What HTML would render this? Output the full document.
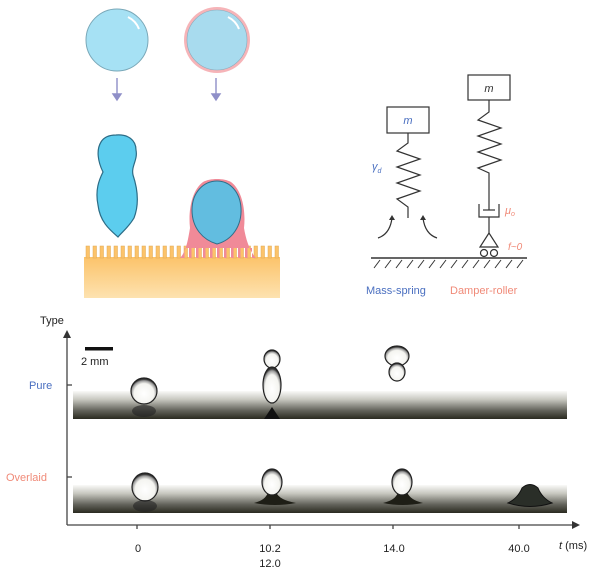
<!DOCTYPE html>
<html><head><meta charset="utf-8"><style>
html,body{margin:0;padding:0;background:#fff;}
svg{display:block;font-family:"Liberation Sans",sans-serif;}
</style></head><body>
<svg width="600" height="580" viewBox="0 0 600 580" xmlns="http://www.w3.org/2000/svg">
<defs>
<linearGradient id="strip" x1="0" y1="0" x2="0" y2="1">
<stop offset="0" stop-color="#fafaf8"/><stop offset="0.3" stop-color="#c8c8c0"/><stop offset="0.7" stop-color="#62625a"/><stop offset="1" stop-color="#2a2a20"/></linearGradient>
<radialGradient id="drop" cx="0.5" cy="0.6" r="0.55"><stop offset="0" stop-color="#fff"/><stop offset="0.7" stop-color="#f4f4f0"/><stop offset="0.9" stop-color="#999"/><stop offset="1" stop-color="#333"/></radialGradient>
<linearGradient id="sub" x1="0" y1="0" x2="0" y2="1"><stop offset="0" stop-color="#fcc36a"/><stop offset="1" stop-color="#fde2b0"/></linearGradient>
</defs>

<circle cx="117" cy="40" r="31" fill="#a6e1f4" stroke="#7aa8b8" stroke-width="1"/>
<path d="M128 17 q8 4 11 12" stroke="#fff" stroke-width="2" fill="none"/>
<circle cx="217" cy="40" r="33" fill="#f6b4b8"/>
<circle cx="217" cy="40" r="30" fill="#a8dbee" stroke="#8ab" stroke-width="0.6"/>
<path d="M228 17 q8 4 11 12" stroke="#fff" stroke-width="2" fill="none"/>
<g stroke="#8f8fc8" stroke-width="1.4" fill="#8f8fc8">
<line x1="117" y1="78" x2="117" y2="96"/><path d="M113 94 L117 100 L121 94Z"/>
<line x1="216" y1="78" x2="216" y2="96"/><path d="M212 94 L216 100 L220 94Z"/>
</g>
<path d="M116 135 C128 134 136 140 136 150 C138 160 131 166 133 175 C138 190 139 205 134 218 C128 228 122 232 118 237 C110 230 100 222 98 205 C95 190 99 180 103 172 C98 162 96 150 101 142 C104 137 110 135 116 135Z" fill="#5ccdee" stroke="#2c6c86" stroke-width="1.2"/>

<rect x="84" y="257" width="196" height="41" fill="url(#sub)"/>
<g fill="#fcc36a" stroke="#e0a850" stroke-width="0.5">
<rect x="86" y="246" width="3.5" height="12"/><rect x="93" y="246" width="3.5" height="12"/><rect x="100" y="246" width="3.5" height="12"/><rect x="107" y="246" width="3.5" height="12"/><rect x="114" y="246" width="3.5" height="12"/><rect x="121" y="246" width="3.5" height="12"/><rect x="128" y="246" width="3.5" height="12"/><rect x="135" y="246" width="3.5" height="12"/><rect x="142" y="246" width="3.5" height="12"/><rect x="149" y="246" width="3.5" height="12"/><rect x="156" y="246" width="3.5" height="12"/><rect x="163" y="246" width="3.5" height="12"/><rect x="170" y="246" width="3.5" height="12"/><rect x="177" y="246" width="3.5" height="12"/><rect x="184" y="246" width="3.5" height="12"/><rect x="191" y="246" width="3.5" height="12"/><rect x="198" y="246" width="3.5" height="12"/><rect x="205" y="246" width="3.5" height="12"/><rect x="212" y="246" width="3.5" height="12"/><rect x="219" y="246" width="3.5" height="12"/><rect x="226" y="246" width="3.5" height="12"/><rect x="233" y="246" width="3.5" height="12"/><rect x="240" y="246" width="3.5" height="12"/><rect x="247" y="246" width="3.5" height="12"/><rect x="254" y="246" width="3.5" height="12"/><rect x="261" y="246" width="3.5" height="12"/><rect x="268" y="246" width="3.5" height="12"/><rect x="275" y="246" width="3.5" height="12"/>
</g>
<path d="M180 258 C186 252 188 240 190 228 C188 210 192 190 203 182 C210 178 224 178 231 182 C242 190 246 210 244 228 C246 240 250 252 256 258 L252 258 L252 248 L247.5 248 L247.5 258 L245 258 L245 248 L240.5 248 L240.5 258 L238 258 L238 248 L233.5 248 L233.5 258 L231 258 L231 248 L226.5 248 L226.5 258 L224 258 L224 248 L219.5 248 L219.5 258 L217 258 L217 248 L212.5 248 L212.5 258 L210 258 L210 248 L205.5 248 L205.5 258 L203 258 L203 248 L198.5 248 L198.5 258 L196 258 L196 248 L191.5 248 L191.5 258 L189 258 L189 248 L184.5 248 L184.5 258Z" fill="#f08a98"/>
<path d="M217 181 C230 181 240 192 241 208 C242 226 232 240 217 244 C203 240 192 228 192 210 C192 192 204 181 217 181Z" fill="#62bde0" stroke="#2f6f8a" stroke-width="1"/>

<g stroke="#333" stroke-width="1.2" fill="none">
<rect x="387" y="107" width="42" height="26" fill="#fff"/>
<polyline points="408,133 408,143 397,151 420,159 397,167 420,175 397,183 420,191 397,199 408,207 408,218"/>
<rect x="468" y="75" width="42" height="25" fill="#fff"/>
<polyline points="489,100 489,112 478,120 501,128 478,136 501,144 478,152 501,160 478,168 489,173 489,210"/>
<polyline points="479,204 479,217 499,217 499,204"/>
<line x1="483" y1="210" x2="495" y2="210"/>
<line x1="489" y1="217" x2="489" y2="233"/>
<path d="M489 233 L480 247 L498 247Z"/>
<circle cx="484" cy="253" r="3.5"/><circle cx="494" cy="253" r="3.5"/>
<line x1="371" y1="258" x2="527" y2="258" stroke-width="1.5"/>
<path d="M380 260 l-6 8 M391 260 l-6 8 M402 260 l-6 8 M413 260 l-6 8 M424 260 l-6 8 M435 260 l-6 8 M446 260 l-6 8 M457 260 l-6 8 M468 260 l-6 8 M479 260 l-6 8 M490 260 l-6 8 M501 260 l-6 8 M512 260 l-6 8 M523 260 l-6 8" stroke-width="1"/>
<path d="M378 238 Q390 234 392 218"/><path d="M437 238 Q425 234 423 218"/>
</g>
<path d="M389 220 L392 215 L395 220Z M420 220 L423 215 L426 220Z" fill="#333"/>
<g font-style="italic" font-size="11" fill="#333">
<text x="408" y="124" text-anchor="middle" fill="#4a6fc0">m</text>
<text x="489" y="92" text-anchor="middle">m</text>
<text x="372" y="170" fill="#4a6fc0">γ<tspan font-size="7" dy="3">d</tspan></text>
<text x="505" y="214" fill="#f08a78">μ<tspan font-size="7" dy="2">o</tspan></text>
<text x="508" y="250" fill="#f08a78" font-size="10">f~0</text>
</g>
<text x="366" y="294" font-size="11" fill="#4a6fc0">Mass-spring</text>
<text x="450" y="294" font-size="11" fill="#f08a78">Damper-roller</text>

<text x="40" y="324" font-size="11" fill="#222">Type</text>
<g stroke="#444" stroke-width="1.3" fill="none">
<line x1="67" y1="336" x2="67" y2="525"/><line x1="67" y1="525" x2="574" y2="525"/>
<line x1="67" y1="385" x2="72" y2="385"/><line x1="67" y1="477" x2="72" y2="477"/>
<line x1="137" y1="525" x2="137" y2="529"/><line x1="270" y1="525" x2="270" y2="529"/><line x1="393" y1="525" x2="393" y2="529"/><line x1="519" y1="525" x2="519" y2="529"/>
</g>
<path d="M63 338 L67 330 L71 338Z M572 521 L580 525 L572 529Z" fill="#333"/>
<rect x="85" y="347" width="28" height="3.5" fill="#111"/>
<text x="81" y="365" font-size="11" fill="#222">2 mm</text>
<text x="29" y="389" font-size="11" fill="#4a6fc0">Pure</text>
<text x="6" y="481" font-size="11" fill="#f08a78">Overlaid</text>

<rect x="73" y="391" width="494" height="28" fill="url(#strip)"/>
<rect x="73" y="485" width="494" height="28" fill="url(#strip)"/>

<ellipse cx="144" cy="391" rx="13" ry="13" fill="url(#drop)" stroke="#222" stroke-width="1.2"/>
<ellipse cx="144" cy="411" rx="12" ry="6" fill="#222" opacity="0.6"/>
<ellipse cx="272" cy="359" rx="8" ry="9" fill="url(#drop)" stroke="#222" stroke-width="1.2"/>
<ellipse cx="272" cy="385" rx="9" ry="18" fill="url(#drop)" stroke="#222" stroke-width="1.2"/>
<path d="M264 419 L272 407 L280 419Z" fill="#111"/>
<ellipse cx="397" cy="356" rx="12" ry="10" fill="url(#drop)" stroke="#222" stroke-width="1.2"/>
<ellipse cx="397" cy="372" rx="8" ry="9" fill="url(#drop)" stroke="#222" stroke-width="1.2"/>

<ellipse cx="145" cy="487" rx="13" ry="14" fill="url(#drop)" stroke="#222" stroke-width="1.2"/>
<ellipse cx="145" cy="506" rx="12" ry="6" fill="#222" opacity="0.6"/>
<path d="M254 503 Q266 500 268 492 L276 492 Q279 500 296 503 Q275 507 254 503Z" fill="#1e1e16"/>
<ellipse cx="272" cy="482" rx="10" ry="13" fill="url(#drop)" stroke="#222" stroke-width="1.2"/>
<path d="M383 503 Q396 500 398 492 L407 492 Q410 500 423 503 Q402 507 383 503Z" fill="#1e1e16"/>
<ellipse cx="402" cy="482" rx="10" ry="13" fill="url(#drop)" stroke="#222" stroke-width="1.2"/>
<path d="M508 503 Q518 498 522 488 Q530 481 538 488 Q542 498 552 503 Q530 510 508 503Z" fill="#2a2e28" stroke="#111"/>

<g font-size="11" fill="#222" text-anchor="middle">
<text x="138" y="552">0</text>
<text x="270" y="552">10.2</text>
<text x="270" y="567">12.0</text>
<text x="394" y="552">14.0</text>
<text x="519" y="552">40.0</text>
</g>
<text x="559" y="549" font-size="11" fill="#222"><tspan font-style="italic">t</tspan> (ms)</text>
</svg>
</body></html>
